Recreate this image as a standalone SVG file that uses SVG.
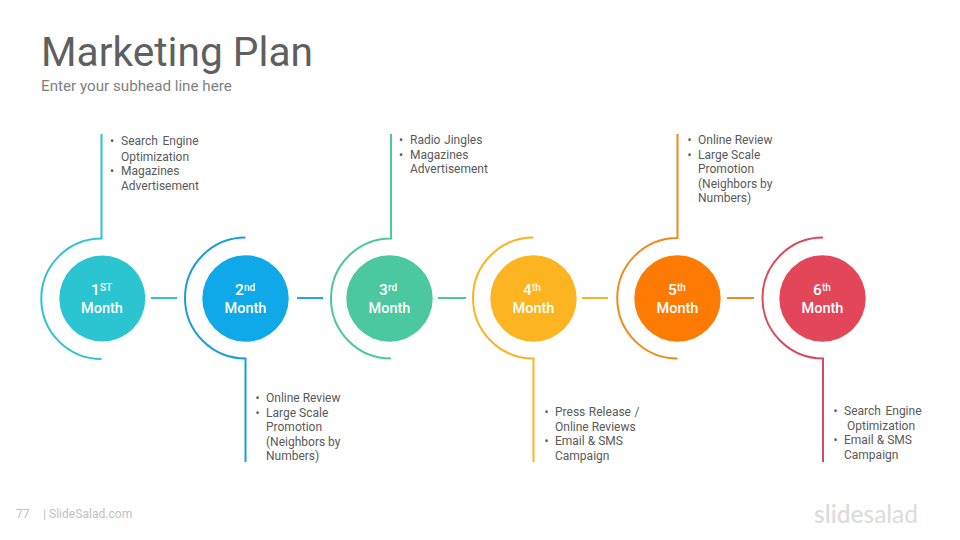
<svg xmlns="http://www.w3.org/2000/svg" width="960" height="540" viewBox="0 0 960 540">
<style>
text{font-family:Roboto,"Liberation Sans",sans-serif}
.t{font-size:40.7px;fill:#5f5f5f}
.s{font-size:15.2px;fill:#7f7f7f}
.b{font-size:12px;fill:#595959}
.w{word-spacing:1.6px}
.x{word-spacing:.6px}
.m{font-size:14.5px;font-weight:500;fill:#fff;text-anchor:middle}
.n{font-size:15.5px;font-weight:500;fill:#fff}
.u{font-size:10px;font-weight:500;fill:#fff}
.l{fill:none;stroke-width:2}
.f{font-size:12.1px;fill:#bfbfbf}
</style>
<rect width="960" height="540" fill="#fff"/>
<text class="t" x="41" y="66">Marketing Plan</text>
<text class="s" x="41" y="91">Enter your subhead line here</text>
<g id="connectors">
<path class="l" stroke="#2bc4d1" d="M101.500 134V238.500A60 60 0 0 0 101.500 359M151 298H177"/>
<path class="l" stroke="#1b9dd4" d="M245.500 237.500A60 60 0 0 0 245.500 358.500V462"/>
<path class="l" stroke="#1fa5e0" d="M297 298H323"/>
<path class="l" stroke="#4bc8a0" d="M391 134V238.500A60 60 0 0 0 391 358.500M438 298H466"/>
<path class="l" stroke="#fbb421" d="M533.500 237.500A60 60 0 0 0 533.500 358.500V462M582 298H608"/>
<path class="l" stroke="#f08a1d" d="M677.500 134V238A60 60 0 0 0 677.500 358.500M727 298H754"/>
<path class="l" stroke="#d9495e" d="M823 237.500A60 60 0 0 0 823 358.500V462"/>
</g>
<g id="node1"><circle cx="102.300" cy="298.500" r="43" fill="#2bc4d1"/>
<text class="n" x="91" y="295">1</text><text class="u" x="100" y="291">ST</text><text class="m" x="102" y="313">Month</text>
<text class="b" x="110" y="145">•</text><text class="b w" x="121" y="145">Search Engine</text><text class="b" x="121" y="161">Optimization</text><text class="b" x="110" y="175">•</text><text class="b" x="121" y="175">Magazines</text><text class="b" x="121" y="190">Advertisement</text></g>
<g id="node2"><circle cx="245.500" cy="298.500" r="43.200" fill="#0fa8e8"/>
<text class="n" x="235" y="295">2</text><text class="u" x="244" y="291">nd</text><text class="m" x="245.500" y="313">Month</text>
<text class="b" x="255.500" y="402">•</text><text class="b" x="266" y="402">Online Review</text><text class="b" x="255.500" y="417">•</text><text class="b" x="266" y="417">Large Scale</text><text class="b" x="266" y="431">Promotion</text><text class="b" x="266" y="446">(Neighbors by</text><text class="b" x="266" y="460">Numbers)</text></g>
<g id="node3"><circle cx="389.500" cy="298.500" r="43.200" fill="#4bc8a0"/>
<text class="n" x="379" y="295">3</text><text class="u" x="388" y="291">rd</text><text class="m" x="389.500" y="313">Month</text>
<text class="b" x="399" y="144">•</text><text class="b x" x="410" y="144">Radio Jingles</text><text class="b" x="399" y="159">•</text><text class="b" x="410" y="159">Magazines</text><text class="b" x="410" y="173">Advertisement</text></g>
<g id="node4"><circle cx="533.500" cy="298.500" r="43.200" fill="#fdb421"/>
<text class="n" x="523" y="295">4</text><text class="u" x="532" y="291">th</text><text class="m" x="533.500" y="313">Month</text>
<text class="b" x="544.500" y="416">•</text><text class="b x" x="555" y="416">Press Release /</text><text class="b" x="555" y="431">Online Reviews</text><text class="b" x="544.500" y="445">•</text><text class="b" x="555" y="445">Email &amp; SMS</text><text class="b" x="555" y="460">Campaign</text></g>
<g id="node5"><circle cx="677.500" cy="298.500" r="43.200" fill="#fd7a03"/>
<text class="n" x="668" y="295">5</text><text class="u" x="677" y="291">th</text><text class="m" x="677.500" y="313">Month</text>
<text class="b" x="687.500" y="144">•</text><text class="b" x="698" y="144">Online Review</text><text class="b" x="687.500" y="159">•</text><text class="b" x="698" y="159">Large Scale</text><text class="b" x="698" y="173">Promotion</text><text class="b" x="698" y="188">(Neighbors by</text><text class="b" x="698" y="202">Numbers)</text></g>
<g id="node6"><circle cx="822.500" cy="298.500" r="43.200" fill="#e34658"/>
<text class="n" x="813" y="295">6</text><text class="u" x="822" y="291">th</text><text class="m" x="822.500" y="313">Month</text>
<text class="b" x="833.500" y="415">•</text><text class="b w" x="844" y="415">Search Engine</text><text class="b" x="847" y="430">Optimization</text><text class="b" x="833.500" y="444">•</text><text class="b" x="844" y="444">Email &amp; SMS</text><text class="b" x="844" y="459">Campaign</text></g>
<text class="f" x="16" y="518">77</text>
<text class="f" x="43" y="518">| SlideSalad.com</text>
<text x="814" y="523" style="font-family:Lato,sans-serif;font-size:24.500px;font-weight:600;fill:#dcdcdc">slide<tspan font-weight="400">salad</tspan></text>
</svg>
